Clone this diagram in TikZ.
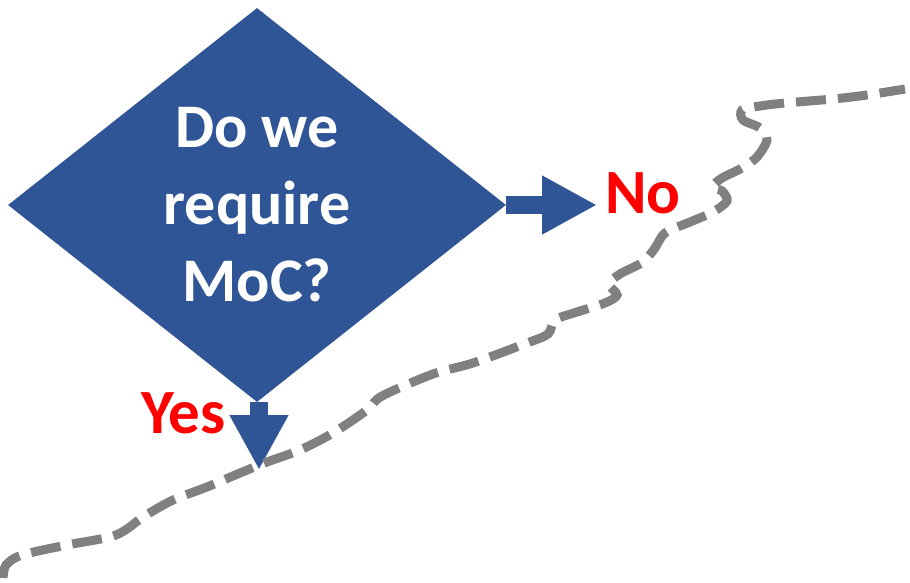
\documentclass[tikz,border=0pt]{standalone}
\usepackage{fontspec}
\setsansfont{Carlito}
\usetikzlibrary{arrows.meta,shapes.geometric}
\definecolor{decisionblue}{RGB}{47,85,151}
\definecolor{answerred}{RGB}{255,0,0}
\definecolor{boundarygray}{RGB}{128,128,128}

\begin{document}
\begin{tikzpicture}[
    x=1pt, y=-1pt,
    decision node/.style={diamond, fill=decisionblue, inner sep=0pt, minimum width=498pt, minimum height=394pt,
        text=white, align=center, font=\sffamily\bfseries\fontsize{62}{77}\selectfont},
    answer label/.style={inner sep=0pt, text=answerred, font=\sffamily\bfseries\fontsize{63}{70}\selectfont},
    flow arrow/.style={decisionblue, line width=18pt, -{Triangle[length=55pt, width=55pt]}},
    boundary/.style={boundarygray, line width=9pt, dash pattern=on 30pt off 12pt}
]
\useasboundingbox (0,0) rectangle (910,583);

% Decision
\node[decision node] (moc) at (257,205) {Do we\\require\\MoC?};

% Answers
\node[answer label, anchor=base west] (no) at (605,213) {No};
\node[answer label, anchor=base east] (yes) at (226,433) {Yes};
\coordinate (yestip) at (259,470);

% Arrows
\draw[flow arrow, shorten >=8pt] (moc.east) -- (moc.east -| no.west);
\draw[flow arrow] (moc.south -| yestip) -- (yestip);

% Boundary line
\draw[boundary] plot[smooth, tension=0.5] coordinates {
    (3,578) (6,565) (22,555) (67,545) (110,537) (127,529) (143,517)
    (173,500) (207,487) (240,473) (267,462) (300,450) (333,433) (367,410)
    (382,396) (433,374) (473,363) (527,343) (548,334) (555,320) (577,312)
    (605,303) (617,295) (609,284) (620,274) (643,262) (655,248) (665,233)
    (690,222) (713,212) (727,201) (722,191) (712,187) (722,178) (742,168)
    (757,157) (767,140) (760,128) (743,120) (742,110) (760,106) (785,103)
    (833,99) (867,95) (905,89)};

\end{tikzpicture}
\end{document}
